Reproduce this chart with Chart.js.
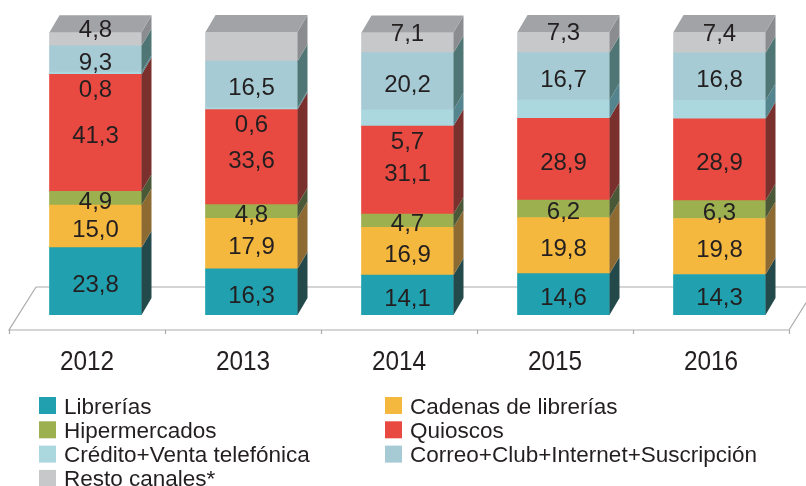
<!DOCTYPE html>
<html>
<head>
<meta charset="utf-8">
<script src="https://cdn.jsdelivr.net/npm/chart.js@4.4.1/dist/chart.umd.min.js"></script>
<style>
  html, body { margin: 0; padding: 0; background: #ffffff; }
  canvas { display: block; }
</style>
</head>
<body>
<canvas id="chart" width="806" height="486"></canvas>
<script>
// Sales share by channel (%), 2012-2016
const years = ['2012', '2013', '2014', '2015', '2016'];
const librerias     = [23.8, 16.3, 14.1, 14.6, 14.3];
const cadenas       = [15.0, 17.9, 16.9, 19.8, 19.8];
const hipermercados = [4.9, 4.8, 4.7, 6.2, 6.3];
const quioscos      = [41.3, 33.6, 31.1, 28.9, 28.9];
const credito       = [0.8, 0.6, 5.7, 6.5, 6.5];
const correo        = [9.3, 16.5, 20.2, 16.7, 16.8];
const resto         = [4.8, 10.3, 7.1, 7.3, 7.4];
// values that carry a printed figure
const creditoShown = [true, true, true, false, false];
const restoShown   = [true, false, true, true, true];

const series = [
  { name: 'Librerías',                        data: librerias,     front: '#21a0af', side: '#24494a' },
  { name: 'Cadenas de librerías',             data: cadenas,       front: '#f5b83e', side: '#8e6a33' },
  { name: 'Hipermercados',                    data: hipermercados, front: '#9cb04f', side: '#4a5837' },
  { name: 'Quioscos',                         data: quioscos,      front: '#e84a41', side: '#7a312e' },
  { name: 'Crédito+Venta telefónica',         data: credito,       front: '#abd7de', side: '#54848d', shown: creditoShown, place: 'below' },
  { name: 'Correo+Club+Internet+Suscripción', data: correo,        front: '#a6cbd4', side: '#4f7675' },
  { name: 'Resto canales*',                   data: resto,         front: '#c7c8ca', side: '#8b8c8f', top: '#a2a3a6', shown: restoShown, place: 'withTop' }
];

const DEPTH_X = 10, DEPTH_Y = 17;          // bar depth
const FLOOR_DX = 27, FLOOR_DY = 43;        // floor depth
const BAR_SHIFT_X = 8.5, BAR_SHIFT_Y = 15; // bar base offset from the floor's front edge
const TEXT = '#231f20';
const FONT = '"Liberation Sans", Arial, Helvetica, sans-serif';

const fmt = v => v.toFixed(1).replace('.', ',');

// Floor plane with category ticks, drawn behind the bars
const floorPlugin = {
  id: 'floor',
  beforeDatasetsDraw(chart) {
    const { ctx, chartArea, scales } = chart;
    const base = scales.y.getPixelForValue(0);
    const fy = base + BAR_SHIFT_Y;
    const fl = chartArea.left - BAR_SHIFT_X;
    const fr = chartArea.right - BAR_SHIFT_X;
    ctx.save();
    ctx.strokeStyle = '#ababab';
    ctx.lineWidth = 1.2;
    ctx.beginPath();
    ctx.moveTo(fl + FLOOR_DX, fy - FLOOR_DY);
    ctx.lineTo(fl, fy);
    ctx.lineTo(fr, fy);
    ctx.lineTo(fr + FLOOR_DX, fy - FLOOR_DY);
    ctx.lineTo(fl + FLOOR_DX, fy - FLOOR_DY);
    const n = chart.data.labels.length;
    const step = (fr - fl) / n;
    for (let k = 0; k <= n; k++) {
      const x = Math.round(fl + k * step) + 0.5;
      ctx.moveTo(x, fy);
      ctx.lineTo(x, fy + 4);
    }
    ctx.stroke();
    ctx.restore();
  }
};

// Side and top faces that give each stacked block its depth
const depthPlugin = {
  id: 'depth',
  afterDatasetsDraw(chart) {
    const { ctx } = chart;
    const last = chart.data.datasets.length - 1;
    chart.data.datasets.forEach((ds, i) => {
      const meta = chart.getDatasetMeta(i);
      meta.data.forEach(bar => {
        const p = bar.getProps(['x', 'y', 'base', 'width'], true);
        const xl = p.x - p.width / 2, xr = p.x + p.width / 2;
        const top = Math.min(p.y, p.base), bot = Math.max(p.y, p.base);
        ctx.save();
        ctx.fillStyle = series[i].side;
        ctx.beginPath();
        ctx.moveTo(xr, bot);
        ctx.lineTo(xr, top);
        ctx.lineTo(xr + DEPTH_X, top - DEPTH_Y);
        ctx.lineTo(xr + DEPTH_X, bot - DEPTH_Y);
        ctx.closePath();
        ctx.fill();
        if (i === last) {
          ctx.fillStyle = series[i].top;
          ctx.beginPath();
          ctx.moveTo(xl, top);
          ctx.lineTo(xl + DEPTH_X, top - DEPTH_Y);
          ctx.lineTo(xr + DEPTH_X, top - DEPTH_Y);
          ctx.lineTo(xr, top);
          ctx.closePath();
          ctx.fill();
        }
        ctx.restore();
      });
    });
  }
};

// Value figures on the blocks, year labels under the floor, legend at the bottom
const textPlugin = {
  id: 'texts',
  afterDatasetsDraw(chart) {
    const { ctx, scales } = chart;
    ctx.save();
    ctx.fillStyle = TEXT;
    ctx.textAlign = 'center';
    ctx.textBaseline = 'alphabetic';
    ctx.font = '24px ' + FONT;
    chart.data.datasets.forEach((ds, i) => {
      const s = series[i];
      chart.getDatasetMeta(i).data.forEach((bar, j) => {
        if (s.shown && !s.shown[j]) return;
        const p = bar.getProps(['x', 'y', 'base'], true);
        const top = Math.min(p.y, p.base), bot = Math.max(p.y, p.base);
        let cy = (top + bot) / 2 + 2;
        if (s.place === 'below') cy = bot + 14;
        if (s.place === 'withTop') cy = (top - DEPTH_Y + bot) / 2 - 2;
        ctx.fillText(fmt(ds.data[j]), p.x, cy + 8.6);
      });
    });

    // year labels, centred on the floor's front edge
    const base = scales.y.getPixelForValue(0);
    chart.data.labels.forEach((lab, j) => {
      const x = scales.x.getPixelForValue(j) - BAR_SHIFT_X;
      ctx.save();
      ctx.translate(x, base + 55);
      ctx.scale(0.87, 1);
      ctx.font = '28px ' + FONT;
      ctx.fillText(lab, 0, 0);
      ctx.restore();
    });

    // legend: two columns, filled row by row
    ctx.textAlign = 'left';
    ctx.font = '22.5px ' + FONT;
    const colX = [39, 385], rowY = 397, rowStep = 24.3, box = 17;
    chart.data.datasets.forEach((ds, i) => {
      const cx = colX[i % 2];
      const ry = rowY + Math.floor(i / 2) * rowStep;
      ctx.fillStyle = ds.backgroundColor;
      ctx.fillRect(cx, ry, box, box);
      ctx.fillStyle = TEXT;
      ctx.fillText(ds.label, cx + 25, ry + 16.5);
    });
    ctx.restore();
  }
};

new Chart(document.getElementById('chart'), {
  type: 'bar',
  data: {
    labels: years,
    datasets: series.map(s => ({
      label: s.name,
      data: s.data,
      backgroundColor: s.front,
      borderWidth: 0,
      barThickness: 92
    }))
  },
  options: {
    responsive: false,
    animation: false,
    layout: { padding: { left: 17.5, right: 8.5, top: 32, bottom: 171 } },
    scales: {
      x: { stacked: true, display: false },
      y: { stacked: true, display: false, min: 0, max: 100 }
    },
    plugins: { legend: { display: false }, tooltip: { enabled: false } }
  },
  plugins: [floorPlugin, depthPlugin, textPlugin]
});
</script>
</body>
</html>
